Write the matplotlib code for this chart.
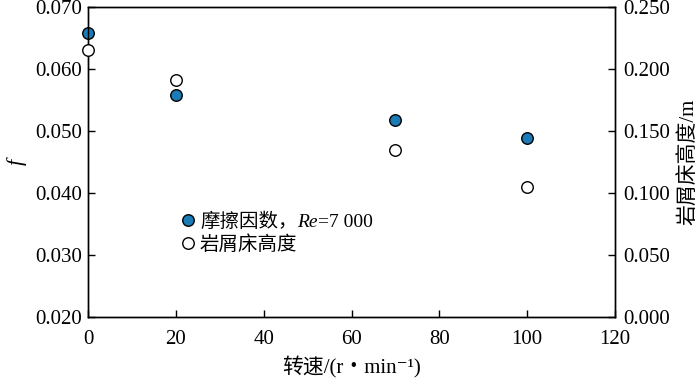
import matplotlib
matplotlib.use("Agg")
import matplotlib.pyplot as plt

plt.rcParams['font.family'] = ['Liberation Serif', 'Noto Sans CJK SC', 'DejaVu Serif']
plt.rcParams['mathtext.fontset'] = 'stix'

speed = [0, 20, 70, 100]
friction = [0.0658, 0.0558, 0.0518, 0.0489]
bed_height = [0.2153, 0.191, 0.1347, 0.105]

x_ticks = [0, 20, 40, 60, 80, 100, 120]
f_ticks = [0.020, 0.030, 0.040, 0.050, 0.060, 0.070]
h_ticks = [0.000, 0.050, 0.100, 0.150, 0.200, 0.250]

FAM = ['Liberation Serif', 'Noto Sans CJK SC', 'DejaVu Serif']

fig = plt.figure(figsize=(7, 3.8), dpi=100)
ax = fig.add_axes([88/700, 63/380, (615-88)/700, 310/380])
ax2 = ax.twinx()

blue = '#1b7bb6'
ax.plot(speed, friction, 'o', ms=8.3, mfc=blue, mec='black', mew=1.0, clip_on=False, zorder=5)
ax2.plot(speed, bed_height, 'o', ms=8.3, mfc='white', mec='black', mew=1.0, clip_on=False, zorder=5)

ax.set_xlim(0, 120)
ax.set_ylim(0.020, 0.070)
ax2.set_ylim(0.000, 0.250)
ax.set_xticks(x_ticks)
ax.set_yticks(f_ticks)
ax2.set_yticks(h_ticks)
ax.set_yticklabels([f"{v:.3f}" for v in f_ticks])
ax2.set_yticklabels([f"{v:.3f}" for v in h_ticks])

for a in (ax, ax2):
    a.tick_params(direction='in', length=5, width=1, labelsize=15)
    for s in a.spines.values():
        s.set_linewidth(1.0)
ax.tick_params(axis='x', pad=9)
ax.tick_params(axis='y', pad=4)
ax2.tick_params(axis='y', pad=6)

ax.set_xlabel('转速/(r・min⁻¹)', fontsize=15, labelpad=6, family=FAM)
ax.set_ylabel('f', fontsize=16, labelpad=6, style='italic', family=FAM)
ax2.set_ylabel('岩屑床高度/m', fontsize=15, labelpad=6, family=FAM)

# manual legend
lx, ly1, ly2 = (188-88)/527, (317-220)/310, (317-243)/310
ax2.plot([lx], [ly1], 'o', transform=ax2.transAxes, ms=8.3, mfc=blue, mec='black', mew=1.0, clip_on=False)
ax2.plot([lx], [ly2], 'o', transform=ax2.transAxes, ms=8.3, mfc='white', mec='black', mew=1.0, clip_on=False)
tx = (200-88)/527
t1 = ax2.text(tx, ly1, '摩擦因数，', transform=ax2.transAxes, fontsize=14, va='center_baseline', ha='left', family=FAM)
t2 = ax2.annotate('Re', xy=(1, 0), xycoords=t1, fontsize=14, style='italic', va='bottom', ha='left', family=FAM)
t3 = ax2.annotate('=7 000', xy=(1, 0), xycoords=t2, fontsize=14, va='bottom', ha='left', family=FAM)
ax2.text(tx, ly2, '岩屑床高度', transform=ax2.transAxes, fontsize=14, va='center_baseline', ha='left', family=FAM)

fig.savefig('out.png', dpi=100)
